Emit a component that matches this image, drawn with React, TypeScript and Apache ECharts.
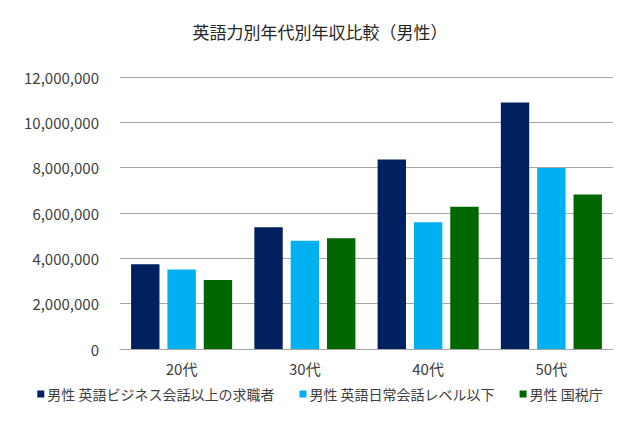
import React, { useEffect, useRef } from 'react';
import * as echarts from 'echarts';

const categories = ['20代', '30代', '40代', '50代'];
const seriesNames = [
  '男性 英語ビジネス会話以上の求職者',
  '男性 英語日常会話レベル以下',
  '男性 国税庁',
];
const businessLevel = [3740000, 5370000, 8360000, 10870000];
const dailyLevel = [3510000, 4780000, 5590000, 7980000];
const taxAgency = [3040000, 4890000, 6280000, 6820000];
const colors = ['#002060', '#00B0F0', '#006600'];

const FONT = '"Noto Sans CJK JP", "Noto Sans", sans-serif';

const App: React.FC = () => {
  const chartRef = useRef<HTMLDivElement>(null);

  useEffect(() => {
    if (!chartRef.current) return () => {};
    const chart = echarts.init(chartRef.current, null, { renderer: 'svg' });
    const values = [businessLevel, dailyLevel, taxAgency];

    chart.setOption({
      animation: false,
      backgroundColor: '#ffffff',
      color: colors,
      textStyle: { fontFamily: FONT },
      title: {
        text: '英語力別年代別年収比較（男性）',
        left: 'center',
        top: 18,
        textStyle: { fontSize: 17, fontWeight: 'normal', color: '#262626', fontFamily: FONT },
      },
      legend: {
        bottom: 20,
        left: 'center',
        itemWidth: 7,
        itemHeight: 7,
        itemGap: 25,
        icon: 'rect',
        textStyle: { fontSize: 14, color: '#404040', fontFamily: FONT, padding: [0, 0, 0, -2] },
        data: seriesNames,
      },
      grid: { left: 120, right: 27, top: 77, bottom: 77, containLabel: false },
      xAxis: {
        type: 'category',
        data: categories,
        axisLine: { lineStyle: { color: '#a6a6a6' } },
        axisTick: { show: false },
        axisLabel: { fontSize: 15, color: '#404040', margin: 12, fontFamily: FONT },
      },
      yAxis: {
        type: 'value',
        min: 0,
        max: 12000000,
        interval: 2000000,
        axisLine: { show: false },
        axisTick: { show: false },
        splitLine: { lineStyle: { color: '#a6a6a6' } },
        axisLabel: {
          fontSize: 15,
          color: '#404040',
          margin: 21,
          fontFamily: FONT,
          formatter: (v: number) => v.toLocaleString('en-US'),
        },
      },
      series: seriesNames.map((name, i) => ({
        name,
        type: 'bar',
        data: values[i],
        barGap: '28%',
        barCategoryGap: '18%',
        itemStyle: { color: colors[i] },
      })),
    });

    return () => {
      chart.dispose();
    };
  }, []);

  return (
    <div
      ref={chartRef}
      style={{ position: 'fixed', left: 0, top: 0, width: 640, height: 426 }}
    />
  );
};

export default App;
